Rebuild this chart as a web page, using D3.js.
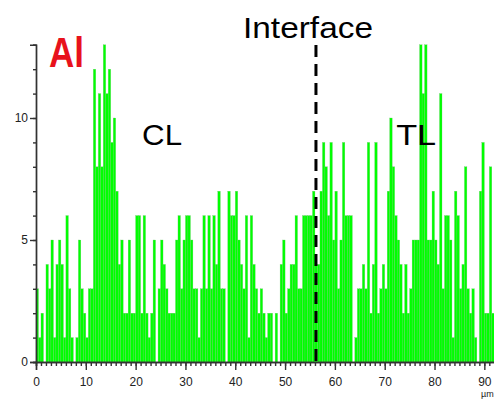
<!DOCTYPE html>
<html>
<head>
<meta charset="utf-8">
<script src="https://cdn.jsdelivr.net/npm/d3@7"></script>
<style>
  html, body { margin: 0; padding: 0; background: #fff; }
  svg { display: block; font-family: "Liberation Sans", Arial, sans-serif; }
</style>
</head>
<body>
<div id="container"></div>
<script>
/**
 * CONSTANTS AND GLOBALS
 * */
const width = 494,
  height = 399;

// Al counts along the line scan, one value per 0.5 µm step (0 -> 92 µm)
const binWidth = 0.5;
const alCounts = [
  3, 1, 2, 0, 4, 3, 5, 1, 4, 5, 4, 1, 6, 3, 1, 0, 1, 5, 3, 2,
  1, 3, 3, 12, 8, 11, 8, 13, 11, 12, 9, 10, 7, 4, 5, 2, 2, 5, 2, 2,
  6, 6, 2, 6, 2, 1, 2, 5, 0, 3, 5, 4, 3, 2, 2, 2, 5, 6, 3, 5,
  6, 6, 5, 3, 3, 1, 3, 6, 3, 6, 3, 6, 4, 7, 3, 3, 0, 7, 6, 6,
  7, 5, 4, 3, 6, 1, 6, 4, 3, 2, 3, 2, 1, 2, 2, 0, 2, 0, 4, 5,
  2, 3, 4, 4, 6, 3, 3, 6, 6, 6, 6, 7, 4, 4, 7, 9, 8, 6, 9, 5,
  7, 3, 5, 9, 6, 6, 6, 0, 1, 3, 3, 4, 3, 9, 2, 4, 9, 2, 3, 4,
  3, 7, 10, 8, 6, 5, 4, 2, 4, 2, 3, 5, 5, 5, 13, 11, 13, 5, 5, 7,
  5, 4, 11, 3, 6, 6, 5, 1, 7, 6, 3, 4, 8, 3, 2, 3, 1, 0, 7, 9,
  2, 2, 8, 2
];

const xMajor = [0, 10, 20, 30, 40, 50, 60, 70, 80, 90];
const xMinor = d3.range(0, 93, 1);
const yMajor = [0, 5, 10];
const yMinor = d3.range(0, 14, 1);

const interfaceAt = 56.2;
const regionLabels = [
  { text: "CL", x: 21.3, y: 8.9 },
  { text: "TL", x: 72.3, y: 8.9 }
];

/**
 * SCALES
 * */
const xScale = d3.scaleLinear().domain([0, 92]).range([36, 494.3]);
const yScale = d3.scaleLinear().domain([0, 13]).range([362, 44.8]);

const svg = d3.select("#container")
  .append("svg")
  .attr("width", width)
  .attr("height", height);

/**
 * BARS
 * */
const bins = alCounts.map((v, i) => ({ x0: i * binWidth, x1: (i + 1) * binWidth, v }));

svg.append("g")
  .selectAll("rect.bar")
  .data(bins)
  .join("rect")
  .attr("class", "bar")
  .attr("x", d => xScale(d.x0))
  .attr("width", d => xScale(d.x1) - xScale(d.x0))
  .attr("y", d => yScale(d.v))
  .attr("height", d => yScale(0) - yScale(d.v))
  .attr("fill", "#00ff00")
  .attr("stroke", "#6ac86a")
  .attr("stroke-width", 0.3);

/**
 * AXES
 * */
const axisColor = "#333";

const xMinorAxis = d3.axisBottom(xScale).tickValues(xMinor).tickSize(4).tickFormat("");
const xMajorAxis = d3.axisBottom(xScale).tickValues(xMajor).tickSize(8).tickPadding(7);
const yMinorAxis = d3.axisLeft(yScale).tickValues(yMinor).tickSize(3).tickFormat("");
const yMajorAxis = d3.axisLeft(yScale).tickValues(yMajor).tickSize(6).tickPadding(2);

[xMinorAxis, xMajorAxis].forEach(ax => {
  svg.append("g")
    .attr("transform", `translate(0,${yScale(0)})`)
    .call(ax);
});
[yMinorAxis, yMajorAxis].forEach(ax => {
  svg.append("g")
    .attr("transform", `translate(${xScale(0)},0)`)
    .call(ax);
});

svg.selectAll(".domain, .tick line")
  .attr("stroke", axisColor)
  .attr("stroke-width", 1.4);
svg.selectAll(".tick text")
  .attr("fill", "#222")
  .style("font-size", "12px")
  .style("font-family", "'Liberation Sans', Arial, sans-serif");

// unit, tucked into the bottom-right corner under the last label
svg.append("text")
  .attr("x", 481)
  .attr("y", 397)
  .attr("font-size", 9)
  .attr("fill", "#222")
  .text("µm");

/**
 * INTERFACE LINE AND LABELS
 * */
svg.append("line")
  .attr("x1", xScale(interfaceAt))
  .attr("x2", xScale(interfaceAt))
  .attr("y1", 45)
  .attr("y2", yScale(0))
  .attr("stroke", "#000")
  .attr("stroke-width", 3)
  .attr("stroke-dasharray", "12,7");

svg.append("text")
  .attr("x", 243)
  .attr("y", 38)
  .attr("font-size", 30)
  .attr("textLength", 130)
  .attr("lengthAdjust", "spacingAndGlyphs")
  .attr("fill", "#000")
  .text("Interface");

svg.append("text")
  .attr("x", 49)
  .attr("y", 67)
  .attr("font-size", 42)
  .attr("font-weight", "bold")
  .attr("textLength", 35)
  .attr("lengthAdjust", "spacingAndGlyphs")
  .attr("fill", "#e8121c")
  .text("Al");

svg.selectAll("text.region")
  .data(regionLabels)
  .join("text")
  .attr("class", "region")
  .attr("x", d => xScale(d.x))
  .attr("y", d => yScale(d.y))
  .attr("font-size", 30)
  .attr("textLength", 40)
  .attr("lengthAdjust", "spacingAndGlyphs")
  .attr("fill", "#000")
  .text(d => d.text);
</script>
</body>
</html>
